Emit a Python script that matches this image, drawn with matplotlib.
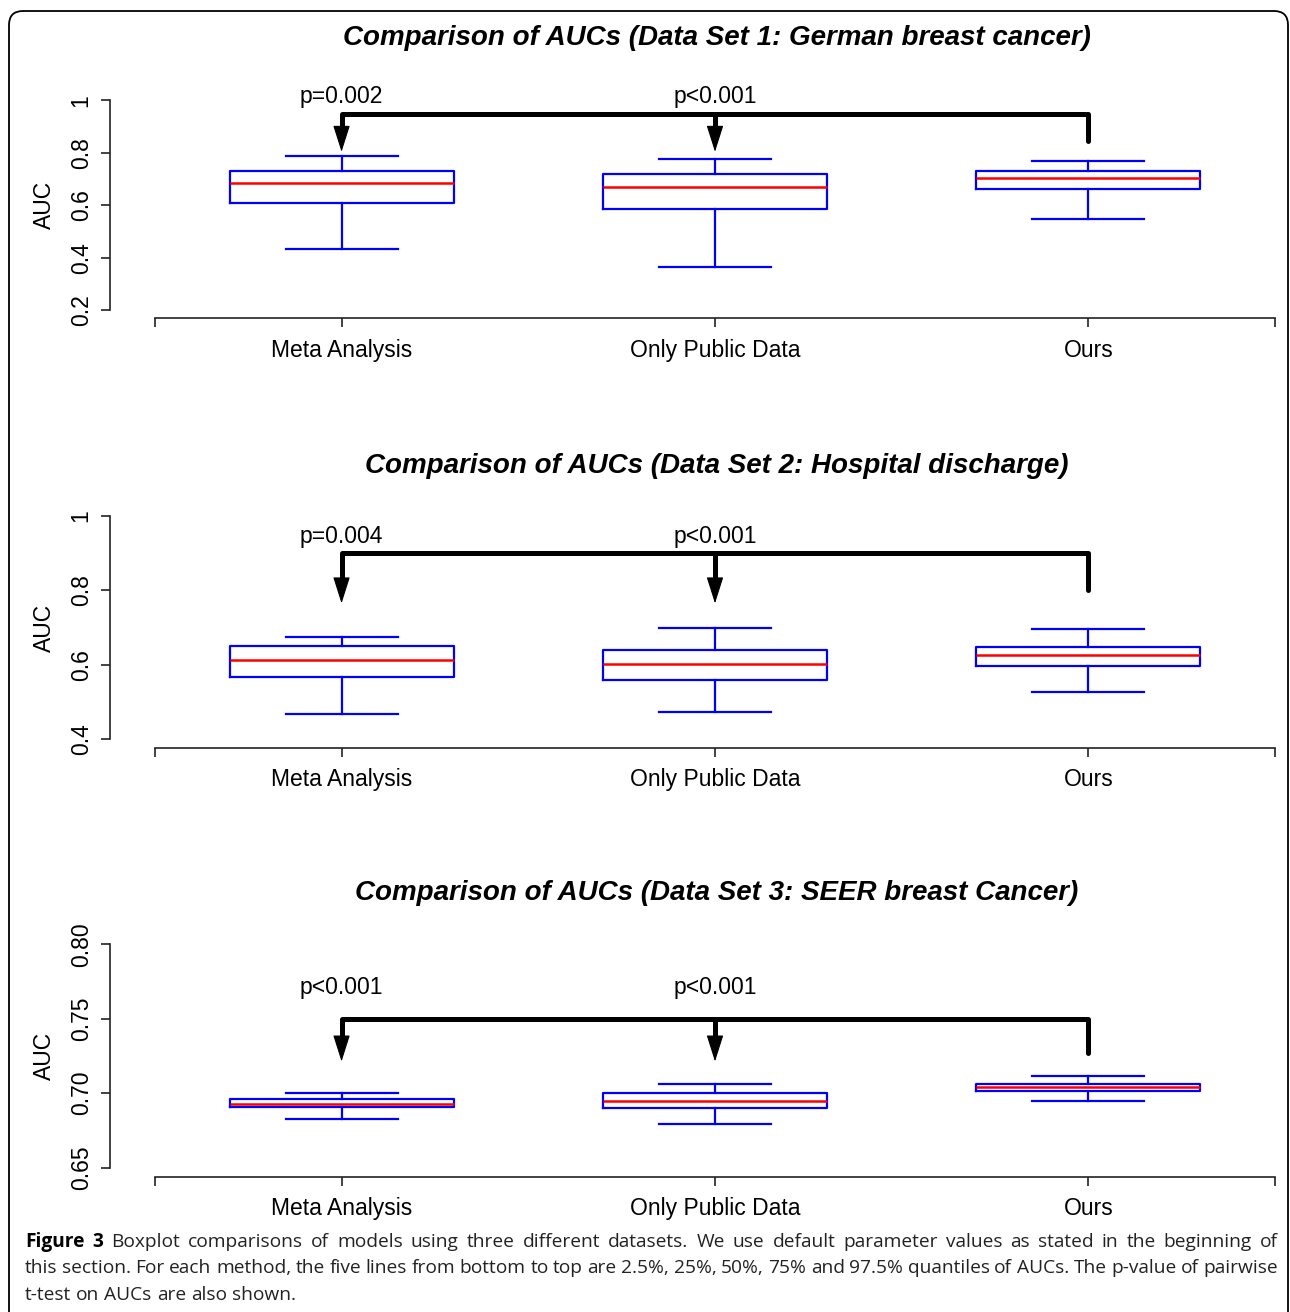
import matplotlib
matplotlib.use("Agg")
import matplotlib.pyplot as plt
from matplotlib.patches import FancyBboxPatch

# ---- data ----
methods = ["Meta Analysis", "Only Public Data", "Ours"]

titles = [
    "Comparison of AUCs (Data Set 1: German breast cancer)",
    "Comparison of AUCs (Data Set 2: Hospital discharge)",
    "Comparison of AUCs (Data Set 3: SEER breast Cancer)",
]

# 2.5%, 25%, 50%, 75%, 97.5% quantiles per method
german_lo = [0.434, 0.363, 0.546]
german_q1 = [0.609, 0.586, 0.663]
german_med = [0.686, 0.671, 0.703]
german_q3 = [0.732, 0.718, 0.732]
german_hi = [0.789, 0.775, 0.769]

hosp_lo = [0.469, 0.473, 0.526]
hosp_q1 = [0.567, 0.559, 0.597]
hosp_med = [0.613, 0.602, 0.627]
hosp_q3 = [0.650, 0.641, 0.649]
hosp_hi = [0.674, 0.700, 0.695]

seer_lo = [0.6827, 0.6792, 0.6949]
seer_q1 = [0.6905, 0.6902, 0.7018]
seer_med = [0.6930, 0.6947, 0.7043]
seer_q3 = [0.6960, 0.7000, 0.7061]
seer_hi = [0.7000, 0.7061, 0.7118]

pvals = [
    ["p=0.002", "p<0.001"],
    ["p=0.004", "p<0.001"],
    ["p<0.001", "p<0.001"],
]

yticks = [
    [0.2, 0.4, 0.6, 0.8, 1.0],
    [0.4, 0.6, 0.8, 1.0],
    [0.65, 0.70, 0.75, 0.80],
]
ytick_labels = [
    ["0.2", "0.4", "0.6", "0.8", "1"],
    ["0.4", "0.6", "0.8", "1"],
    ["0.65", "0.70", "0.75", "0.80"],
]

caption_lines = [
    "Boxplot comparisons of models using three different datasets. We use default parameter values as stated in the beginning of",
    "this section. For each method, the five lines from bottom to top are 2.5%, 25%, 50%, 75% and 97.5% quantiles of AUCs. The p-value of pairwise",
    "t-test on AUCs are also shown.",
]

# ---- layout ----
W, H, DPI = 1290, 1312, 100
plt.rcParams['font.family'] = ['Liberation Sans', 'DejaVu Sans']

panels = [
    dict(lo=german_lo, q1=german_q1, med=german_med, q3=german_q3, hi=german_hi,
         top=92.1, bot=318.4, ylim=(0.168, 1.032), title_y=38,
         bracket=0.948, tip=0.804, end=0.845, label_y=1.017),
    dict(lo=hosp_lo, q1=hosp_q1, med=hosp_med, q3=hosp_q3, hi=hosp_hi,
         top=507.0, bot=748.2, ylim=(0.376, 1.024), title_y=466,
         bracket=0.90, tip=0.765, end=0.80, label_y=0.944),
    dict(lo=seer_lo, q1=seer_q1, med=seer_med, q3=seer_q3, hi=seer_hi,
         top=935.4, bot=1176.6, ylim=(0.644, 0.806), title_y=893,
         bracket=0.75, tip=0.7213, end=0.727, label_y=0.771),
]


def rect(x0, y0, x1, y1):
    return [x0 / W, 1 - y1 / H, (x1 - x0) / W, (y1 - y0) / H]


fig = plt.figure(figsize=(W / DPI, H / DPI), dpi=DPI)

# frame around the figure
bg = fig.add_axes([0, 0, 1, 1])
bg.set_xlim(0, W)
bg.set_ylim(H, 0)
bg.axis('off')
bg.add_patch(FancyBboxPatch((9, 11), 1279, 1400, boxstyle="round,pad=0,rounding_size=14",
                            fill=False, lw=1.3, ec='black'))

blue = '#0000ff'
head_px = 23
for i, p in enumerate(panels):
    ax = fig.add_axes(rect(110, p['top'], 1320, p['bot']))
    ax.patch.set_visible(False)
    stats = []
    for j, m in enumerate(methods):
        stats.append(dict(whislo=p['lo'][j], q1=p['q1'][j], med=p['med'][j],
                          q3=p['q3'][j], whishi=p['hi'][j], label=m))
    ax.bxp(stats, positions=[1, 2, 3], widths=0.6, capwidths=0.3, showfliers=False,
           boxprops=dict(color=blue, lw=1.6),
           whiskerprops=dict(color=blue, lw=1.6),
           capprops=dict(color=blue, lw=1.6),
           medianprops=dict(color='red', lw=1.8))
    ax.set_xlim(0.38, 3.62)
    ax.set_ylim(*p['ylim'])
    for s in ['top', 'right']:
        ax.spines[s].set_visible(False)
    ax.spines['left'].set_bounds(yticks[i][0], yticks[i][-1])
    ax.spines['bottom'].set_bounds(0.5, 3.5)
    for s in ['left', 'bottom']:
        ax.spines[s].set_linewidth(1.2)
        ax.spines[s].set_color('#222222')
    ax.set_xticks([0.5, 1, 2, 3, 3.5], [""] + methods + [""])
    ax.set_yticks(yticks[i], ytick_labels[i])
    ax.tick_params(axis='both', length=6.5, width=1.2, color='#222222', labelsize=16.5)
    ax.tick_params(axis='x', pad=8)
    ax.tick_params(axis='y', labelrotation=90, pad=6)
    for t in ax.get_yticklabels():
        t.set_va('center')
    ax.set_ylabel("AUC", fontsize=16.5, labelpad=10)

    # bracket with arrows
    px_per = (p['bot'] - p['top']) / (p['ylim'][1] - p['ylim'][0])
    head = head_px / px_per
    ax.plot([1, 3, 3], [p['bracket'], p['bracket'], p['end']], color='black', lw=3.6,
            solid_joinstyle='round', solid_capstyle='round', clip_on=False)
    for k, x in enumerate([1, 2]):
        ax.plot([x, x], [p['bracket'], p['tip'] + 0.6 * head], color='black', lw=3.6,
                solid_capstyle='butt', clip_on=False)
        ax.annotate("", xy=(x, p['tip']), xytext=(x, p['bracket']),
                    arrowprops=dict(arrowstyle="-|>,head_length=1.7,head_width=0.54",
                                    lw=0.8, color='black', shrinkA=0, shrinkB=0,
                                    mutation_scale=10), annotation_clip=False)
        ax.text(x, p['label_y'], pvals[i][k], ha='center', va='center', fontsize=16.5)

    fig.text(717 / W, 1 - p['title_y'] / H, titles[i], ha='center', va='center',
             fontsize=20, fontweight='bold', fontstyle='italic')

# caption, justified like the journal layout
renderer = fig.canvas.get_renderer()
cap_left, cap_right = 25, 1278
cap_ys = [1242, 1268, 1295]
cap_font = dict(family=['Open Sans', 'DejaVu Sans'], fontsize=13.8)
for n, line in enumerate(caption_lines):
    words = [(w, 'normal') for w in line.split(' ')]
    if n == 0:
        words = [("Figure", 'bold'), ("3", 'bold')] + words
    texts = []
    for w, weight in words:
        t = fig.text(0, 1 - cap_ys[n] / H, w, va='center', ha='left', fontweight=weight,
                     color='#222222' if weight == 'normal' else 'black', **cap_font)
        texts.append(t)
    widths = [t.get_window_extent(renderer).width for t in texts]
    if n < len(caption_lines) - 1:
        gap = (cap_right - cap_left - sum(widths)) / (len(words) - 1)
    else:
        gap = 5.0
    x = cap_left
    for t, wd in zip(texts, widths):
        t.set_x(x / W)
        x += wd + gap

fig.savefig("out.png", dpi=DPI)
